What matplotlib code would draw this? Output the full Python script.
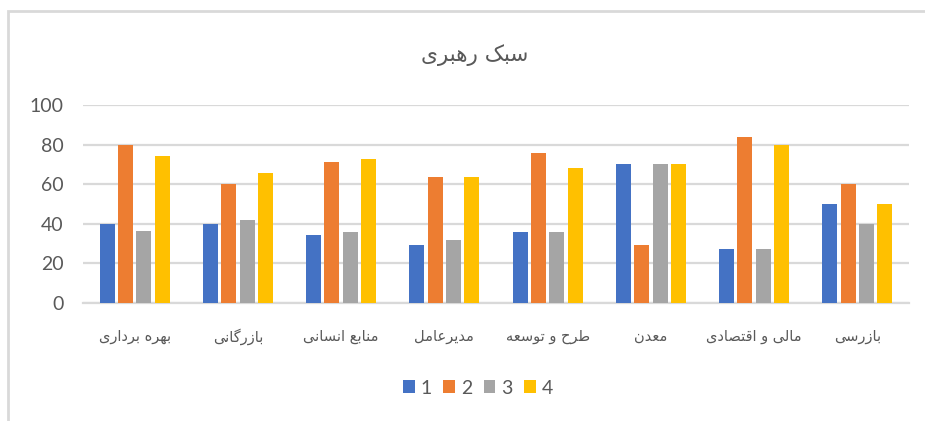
import matplotlib
matplotlib.use("Agg")
import matplotlib.pyplot as plt
from matplotlib.patches import Rectangle, Patch
import numpy as np

# ---------------- data ----------------
title = "سبک رهبری"
categories = ["بهره برداری", "بازرگانی", "منابع انسانی", "مدیرعامل",
              "طرح و توسعه", "معدن", "مالی و اقتصادی", "بازرسی"]
series_names = ["1", "2", "3", "4"]
s1 = [40, 40, 34.5, 29.5, 36, 70, 27.5, 50]
s2 = [80, 60, 71, 63.5, 76, 29.5, 84, 60]
s3 = [36.5, 42, 36, 32, 36, 70, 27.5, 40]
s4 = [74, 65.5, 72.5, 63.5, 68, 70, 80, 50]
yticks = [0, 20, 40, 60, 80, 100]
colors = ["#4472C4", "#ED7D31", "#A5A5A5", "#FFC000"]

# ------------- minimal Persian shaping (presentation forms) -------------
DUAL = {
    "ب": ("\uFE8F", "\uFE90", "\uFE91", "\uFE92"),
    "ت": ("\uFE95", "\uFE96", "\uFE97", "\uFE98"),
    "ح": ("\uFEA1", "\uFEA2", "\uFEA3", "\uFEA4"),
    "س": ("\uFEB1", "\uFEB2", "\uFEB3", "\uFEB4"),
    "ص": ("\uFEB9", "\uFEBA", "\uFEBB", "\uFEBC"),
    "ط": ("\uFEC1", "\uFEC2", "\uFEC3", "\uFEC4"),
    "ع": ("\uFEC9", "\uFECA", "\uFECB", "\uFECC"),
    "ق": ("\uFED5", "\uFED6", "\uFED7", "\uFED8"),
    "ل": ("\uFEDD", "\uFEDE", "\uFEDF", "\uFEE0"),
    "م": ("\uFEE1", "\uFEE2", "\uFEE3", "\uFEE4"),
    "ن": ("\uFEE5", "\uFEE6", "\uFEE7", "\uFEE8"),
    "ه": ("\uFEE9", "\uFEEA", "\uFEEB", "\uFEEC"),
    "ی": ("\uFBFC", "\uFBFD", "\uFBFE", "\uFBFF"),
    "ک": ("\uFB8E", "\uFB8F", "\uFB90", "\uFB91"),
    "گ": ("\uFB92", "\uFB93", "\uFB94", "\uFB95"),
}
RIGHT = {
    "ا": ("\uFE8D", "\uFE8E"),
    "د": ("\uFEA9", "\uFEAA"),
    "ر": ("\uFEAD", "\uFEAE"),
    "ز": ("\uFEAF", "\uFEB0"),
    "و": ("\uFEED", "\uFEEE"),
}


def shape(text):
    out = []
    n = len(text)
    for i, ch in enumerate(text):
        prev = text[i - 1] if i > 0 else None
        nxt = text[i + 1] if i < n - 1 else None
        join_prev = prev in DUAL and (ch in DUAL or ch in RIGHT)
        if ch in DUAL:
            join_next = nxt in DUAL or nxt in RIGHT
            iso, fin, ini, med = DUAL[ch]
            if join_prev and join_next:
                out.append(med)
            elif join_prev:
                out.append(fin)
            elif join_next:
                out.append(ini)
            else:
                out.append(iso)
        elif ch in RIGHT:
            iso, fin = RIGHT[ch]
            out.append(fin if join_prev else iso)
        else:
            out.append(ch)
    return "".join(reversed(out))


# ---------------- figure ----------------
plt.rcParams["font.family"] = ["Lato", "DejaVu Sans"]
W, H = 925, 421
fig = plt.figure(figsize=(W / 100, H / 100), dpi=100)

# chart border (light gray, extends beyond right/bottom edges)
fig.patches.append(Rectangle((8 / W, -0.1), 1.2, 1.1 - 11 / H,
                             transform=fig.transFigure, fill=False,
                             edgecolor="#D9D9D9", linewidth=2))

ax = fig.add_axes([83 / W, 1 - 303 / H, (909 - 83) / W, (303 - 105) / H])

x = np.arange(len(categories))
series = [s1, s2, s3, s4]
slot = 0.178
bw = 0.145
for k, (vals, c, name) in enumerate(zip(series, colors, series_names)):
    ax.bar(x + (k - 1.5) * slot, vals, width=bw, color=c, label=name, zorder=3)

ax.set_xlim(-0.5, len(categories) - 0.5)
ax.set_ylim(0, 100)
ax.set_yticks(yticks)
ax.set_yticklabels([str(v) for v in yticks], fontsize=14, color="#595959")
ax.yaxis.grid(True, color="#D9D9D9", linewidth=1.6, zorder=0)
ax.tick_params(axis="y", length=0, pad=14)
ax.tick_params(axis="x", length=0, pad=0)
ax.set_xticks(x)
ax.set_xticklabels([])
for xi, lab in zip(x, categories):
    ax.text(xi, -0.17, shape(lab), transform=ax.get_xaxis_transform(),
            ha="center", va="center", fontsize=10.5, color="#595959",
            family="DejaVu Sans")
for s in ["top", "right", "left"]:
    ax.spines[s].set_visible(False)
ax.spines["bottom"].set_color("#D9D9D9")
ax.spines["bottom"].set_linewidth(1.6)
ax.set_axisbelow(True)

fig.text(475 / W, 1 - 55 / H, shape(title), ha="center", va="center",
         fontsize=15.5, color="#595959", family="DejaVu Sans")

handles = [Patch(facecolor=c, edgecolor="none") for c in colors]
fig.legend(handles, series_names, loc="center", bbox_to_anchor=(478 / W, 1 - 388 / H),
           ncol=4, frameon=False, fontsize=14, labelcolor="#595959",
           handlelength=0.6, handleheight=0.6, handletextpad=0.3,
           columnspacing=0.6)

fig.savefig("out.png", dpi=100)
